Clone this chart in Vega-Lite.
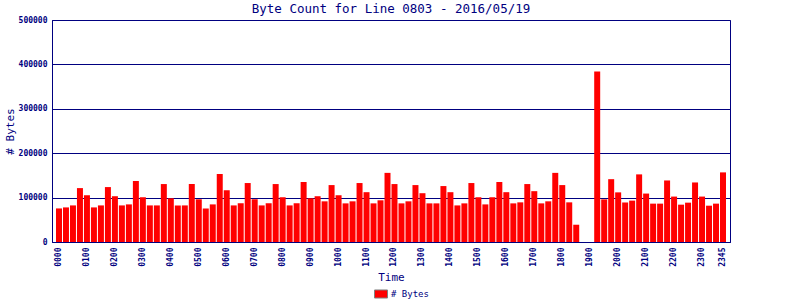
{
  "$schema": "https://vega.github.io/schema/vega-lite/v6.json",
  "width": 678,
  "height": 222,
  "autosize": {"type": "none"},
  "padding": {"left": 52, "top": 20, "right": 70, "bottom": 58},
  "background": "white",
  "title": {
    "text": "Byte Count for Line 0803 - 2016/05/19",
    "font": "DejaVu Sans Mono",
    "fontSize": 12.5,
    "fontWeight": "normal",
    "color": "#000080",
    "anchor": "middle",
    "offset": 1
  },
  "config": {
    "view": {"stroke": "#000080", "strokeWidth": 1},
    "axis": {
      "labelFont": "DejaVu Sans Mono",
      "titleFont": "DejaVu Sans Mono",
      "labelColor": "#000080",
      "titleColor": "#000080",
      "domainColor": "#000080",
      "gridColor": "#000080",
      "gridOpacity": 1,
      "domainWidth": 1,
      "ticks": false,
      "titleFontWeight": "normal"
    }
  },
  "data": {
    "values": [
      {"time": "0000", "bytes": 75600}, {"time": "0015", "bytes": 77900}, {"time": "0030", "bytes": 82400}, {"time": "0045", "bytes": 121400},
      {"time": "0100", "bytes": 105300}, {"time": "0115", "bytes": 77900}, {"time": "0130", "bytes": 82400}, {"time": "0145", "bytes": 123700},
      {"time": "0200", "bytes": 103100}, {"time": "0215", "bytes": 82400}, {"time": "0230", "bytes": 84700}, {"time": "0245", "bytes": 137400},
      {"time": "0300", "bytes": 100800}, {"time": "0315", "bytes": 82400}, {"time": "0330", "bytes": 82400}, {"time": "0345", "bytes": 130500},
      {"time": "0400", "bytes": 98500}, {"time": "0415", "bytes": 82400}, {"time": "0430", "bytes": 82400}, {"time": "0445", "bytes": 130500},
      {"time": "0500", "bytes": 96200}, {"time": "0515", "bytes": 75600}, {"time": "0530", "bytes": 84700}, {"time": "0545", "bytes": 153400},
      {"time": "0600", "bytes": 116800}, {"time": "0615", "bytes": 82400}, {"time": "0630", "bytes": 87000}, {"time": "0645", "bytes": 132800},
      {"time": "0700", "bytes": 96200}, {"time": "0715", "bytes": 82400}, {"time": "0730", "bytes": 87000}, {"time": "0745", "bytes": 130500},
      {"time": "0800", "bytes": 100800}, {"time": "0815", "bytes": 82400}, {"time": "0830", "bytes": 87000}, {"time": "0845", "bytes": 135100},
      {"time": "0900", "bytes": 98500}, {"time": "0915", "bytes": 103100}, {"time": "0930", "bytes": 91600}, {"time": "0945", "bytes": 128200},
      {"time": "1000", "bytes": 105300}, {"time": "1015", "bytes": 87000}, {"time": "1030", "bytes": 91600}, {"time": "1045", "bytes": 132800},
      {"time": "1100", "bytes": 112200}, {"time": "1115", "bytes": 87000}, {"time": "1130", "bytes": 93900}, {"time": "1145", "bytes": 155700},
      {"time": "1200", "bytes": 130500}, {"time": "1215", "bytes": 87000}, {"time": "1230", "bytes": 91600}, {"time": "1245", "bytes": 128200},
      {"time": "1300", "bytes": 109900}, {"time": "1315", "bytes": 87000}, {"time": "1330", "bytes": 87000}, {"time": "1345", "bytes": 126000},
      {"time": "1400", "bytes": 112200}, {"time": "1415", "bytes": 82400}, {"time": "1430", "bytes": 87000}, {"time": "1445", "bytes": 132800},
      {"time": "1500", "bytes": 100800}, {"time": "1515", "bytes": 84700}, {"time": "1530", "bytes": 100800}, {"time": "1545", "bytes": 135100},
      {"time": "1600", "bytes": 112200}, {"time": "1615", "bytes": 87000}, {"time": "1630", "bytes": 89300}, {"time": "1645", "bytes": 130500},
      {"time": "1700", "bytes": 114500}, {"time": "1715", "bytes": 87000}, {"time": "1730", "bytes": 91600}, {"time": "1745", "bytes": 155700},
      {"time": "1800", "bytes": 128200}, {"time": "1815", "bytes": 89300}, {"time": "1830", "bytes": 38900}, {"time": "1845", "bytes": 0},
      {"time": "1900", "bytes": 0}, {"time": "1915", "bytes": 384000}, {"time": "1930", "bytes": 96000}, {"time": "1945", "bytes": 141500},
      {"time": "2000", "bytes": 111800}, {"time": "2015", "bytes": 89000}, {"time": "2030", "bytes": 93200}, {"time": "2045", "bytes": 152300},
      {"time": "2100", "bytes": 109100}, {"time": "2115", "bytes": 86400}, {"time": "2130", "bytes": 86400}, {"time": "2145", "bytes": 138600},
      {"time": "2200", "bytes": 102300}, {"time": "2215", "bytes": 84100}, {"time": "2230", "bytes": 88600}, {"time": "2245", "bytes": 134100},
      {"time": "2300", "bytes": 102300}, {"time": "2315", "bytes": 81800}, {"time": "2330", "bytes": 86400}, {"time": "2345", "bytes": 156800}
    ]
  },
  "mark": {"type": "bar"},
  "encoding": {
    "x": {
      "field": "time",
      "type": "ordinal",
      "sort": null,
      "scale": {"paddingInner": 0.143, "paddingOuter": 0.571},
      "axis": {
        "title": "Time",
        "titleFontSize": 11,
        "titlePadding": 5,
        "labelAngle": -90,
        "labelFontSize": 8,
        "labelPadding": 5,
        "labelFontWeight": "bold",
        "grid": false,
        "values": ["0000","0100","0200","0300","0400","0500","0600","0700","0800","0900","1000","1100","1200","1300","1400","1500","1600","1700","1800","1900","2000","2100","2200","2300","2345"]
      }
    },
    "y": {
      "field": "bytes",
      "type": "quantitative",
      "scale": {"domain": [0, 500000], "nice": false},
      "axis": {
        "title": "# Bytes",
        "titleFontSize": 11,
        "titlePadding": 3,
        "labelFontSize": 8,
        "labelFontWeight": "bold",
        "labelPadding": 5,
        "format": "d",
        "values": [0, 100000, 200000, 300000, 400000, 500000],
        "grid": true
      }
    },
    "color": {
      "datum": "# Bytes",
      "scale": {"range": ["#ff0000"]},
      "legend": {
        "title": null,
        "orient": "none",
        "legendX": 322,
        "legendY": 267,
        "symbolType": "M-1,-0.62L1,-0.62L1,0.62L-1,0.62Z",
        "symbolSize": 169,
        "symbolStrokeColor": "#808080",
        "symbolStrokeWidth": 1,
        "symbolOpacity": 1,
        "labelFont": "DejaVu Sans Mono",
        "labelFontSize": 9,
        "labelColor": "#000080",
        "labelOffset": 3
      }
    }
  }
}
